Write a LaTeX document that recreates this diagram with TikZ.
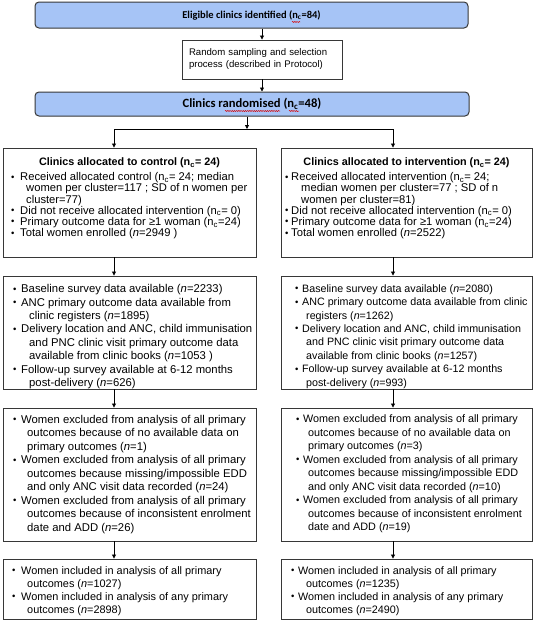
\documentclass[tikz,border=0pt]{standalone}
\usepackage{fontspec}
\setmainfont{Liberation Sans}
\newfontfamily\calib{Carlito}
\usetikzlibrary{arrows.meta,decorations.pathmorphing}
\definecolor{bluefill}{RGB}{166,196,246}
\definecolor{edge}{RGB}{55,55,55}
\newcommand{\nc}{n\textsubscript{c}}
\newcommand{\nn}{\textit{n}}
\newcommand{\B}[1]{\makebox[#1][l]{\raisebox{0.6pt}{\fontsize{9.5}{9}\selectfont •}}}
\newcommand{\C}[1]{\hspace*{#1}}
\begin{document}
\begin{tikzpicture}[x=1pt,y=-1pt,
  bluebox/.style={draw=edge, line width=1pt, fill=bluefill, rounded corners=4pt, inner sep=0pt},
  whitebox/.style={draw=edge, line width=0.9pt, fill=white, inner sep=0pt},
  txt/.style={anchor=north west, inner sep=0pt, align=left},
  head/.style={inner sep=0pt, font=\bfseries\fontsize{10.8}{12}\selectfont},
  arr/.style={draw=black, line width=0.8pt, -{Triangle[length=4pt,width=4pt]}},
  conn/.style={draw=black, line width=0.8pt},
  squig/.style={draw=red!85!black, line width=0.5pt, decorate, decoration={snake,amplitude=0.55pt,segment length=2.2pt}}
]
\useasboundingbox (0,0) rectangle (535,629);
\fill[white] (0,0) rectangle (535,629);

% top part
\node[bluebox, minimum width=433pt, minimum height=26pt, font=\calib\bfseries\fontsize{10.5}{12}\selectfont] (T) at (251.5,15) {Eligible clinics identified (\nc=84)};
\node[whitebox, minimum width=160pt, minimum height=39pt, text width=146pt, inner xsep=7pt, align=left, font=\fontsize{9.6}{12}\selectfont] (R) at (262,59.5) {Random sampling and selection\\process (described in Protocol)};
\node[bluebox, minimum width=434pt, minimum height=24pt, font=\calib\bfseries\fontsize{12.6}{15}\selectfont] (D) at (252,104) {Clinics randomised (\nc=48)};

\draw[squig] (292,22) -- (300,22);
\draw[squig] (225,111) -- (280,111);
\draw[squig] (289,111) -- (299,111);

\coordinate (J) at (247,129);
\coordinate (JL) at (114,129);
\coordinate (JR) at (393,129);

% boxes
\node[whitebox, minimum width=253pt, minimum height=109pt] (L1) at (129.5,202.5) {};
\node[whitebox, minimum width=253pt, minimum height=113pt] (L2) at (129.5,332.5) {};
\node[whitebox, minimum width=253pt, minimum height=133pt] (L3) at (129.5,474.5) {};
\node[whitebox, minimum width=253pt, minimum height=60pt] (L4) at (129.5,589) {};
\node[whitebox, minimum width=251pt, minimum height=109pt] (R1) at (406.5,202.5) {};
\node[whitebox, minimum width=251pt, minimum height=113pt] (R2) at (406.5,332.5) {};
\node[whitebox, minimum width=251pt, minimum height=133pt] (R3) at (406.5,474.5) {};
\node[whitebox, minimum width=251pt, minimum height=60pt] (R4) at (406.5,589) {};

% connectors
\draw[arr] (T.south -| R.north) -- (R.north);
\draw[arr] (R.south) -- (R.south |- D.north);
\draw[arr] (D.south -| J) -- (J);
\draw[conn] (JL) -- (JR);
\draw[arr] (JL) -- (JL |- L1.north);
\draw[arr] (JR) -- (JR |- R1.north);
\draw[arr] (L1.south -| JL) -- (L2.north -| JL);
\draw[arr] (L2.south -| JL) -- (L3.north -| JL);
\draw[arr] (L3.south -| JL) -- (L4.north -| JL);
\draw[arr] (R1.south -| JR) -- (R2.north -| JR);
\draw[arr] (R2.south -| JR) -- (R3.north -| JR);
\draw[arr] (R3.south -| JR) -- (R4.north -| JR);

% left column texts
\node[head] (L1h) at (129.5,163) {Clinics allocated to control (\nc= 24)};
\node[txt, font=\fontsize{11.2}{11.2}\selectfont] (L1t) at (11,172.3) {%
\B{9pt}Received allocated control (\nc= 24; median\\
\C{15pt}women per cluster=117 ; SD of n women per\\
\C{15pt}cluster=77)\\
\B{9pt}Did not receive allocated intervention (\nc= 0)\\
\B{9pt}Primary outcome data for ≥1 woman (\nc=24)\\
\B{9pt}Total women enrolled (\nn=2949 )};

\node[txt, font=\fontsize{11.3}{13.4}\selectfont] (L2t) at (13,284.3) {%
\B{8pt}Baseline survey data available (\nn=2233)\\
\B{8pt}ANC primary outcome data available from\\
\C{16pt}clinic registers (\nn=1895)\\
\B{8pt}Delivery location and ANC, child immunisation\\
\C{16pt}and PNC clinic visit primary outcome data\\
\C{16pt}available from clinic books (\nn=1053 )\\
\B{8pt}Follow-up survey available at 6-12 months\\
\C{16pt}post-delivery (\nn=626)};

\node[txt, font=\fontsize{11.3}{13.5}\selectfont] (L3t) at (13,414.8) {%
\B{8pt}Women excluded from analysis of all primary\\
\C{14pt}outcomes because of no available data on\\
\C{14pt}primary outcomes (\nn=1)\\
\B{8pt}Women excluded from analysis of all primary\\
\C{14pt}outcomes because missing/impossible EDD\\
\C{14pt}and only ANC visit data recorded (\nn=24)\\
\B{8pt}Women excluded from analysis of all primary\\
\C{14pt}outcomes because of inconsistent enrolment\\
\C{14pt}date and ADD (\nn=26)};

\node[txt, font=\fontsize{10.9}{13}\selectfont] (L4t) at (12,566) {%
\B{9pt}Women included in analysis of all primary\\
\C{15pt}outcomes (\nn=1027)\\
\B{9pt}Women included in analysis of any primary\\
\C{15pt}outcomes (\nn=2898)};

% right column texts
\node[head] (R1h) at (406.5,163) {Clinics allocated to intervention (\nc= 24)};
\node[txt, font=\fontsize{11.2}{11.2}\selectfont] (R1t) at (285,172.3) {%
\B{6pt}Received allocated intervention (\nc= 24;\\
\C{16pt}median women per cluster=77 ; SD of n\\
\C{16pt}women per cluster=81)\\
\B{6pt}Did not receive allocated intervention (\nc= 0)\\
\B{6pt}Primary outcome data for ≥1 woman (\nc=24)\\
\B{6pt}Total women enrolled (\nn=2522)};

\node[txt, font=\fontsize{10.7}{13.4}\selectfont] (R2t) at (295,284.3) {%
\B{7pt}Baseline survey data available (\nn=2080)\\
\B{7pt}ANC primary outcome data available from clinic\\
\C{11pt}registers (\nn=1262)\\
\B{7pt}Delivery location and ANC, child immunisation\\
\C{11pt}and PNC clinic visit primary outcome data\\
\C{11pt}available from clinic books (\nn=1257)\\
\B{7pt}Follow-up survey available at 6-12 months\\
\C{11pt}post-delivery (\nn=993)};

\node[txt, font=\fontsize{10.8}{13.5}\selectfont] (R3t) at (296,414.8) {%
\B{7pt}Women excluded from analysis of all primary\\
\C{12pt}outcomes because of no available data on\\
\C{12pt}primary outcomes (\nn=3)\\
\B{7pt}Women excluded from analysis of all primary\\
\C{12pt}outcomes because missing/impossible EDD\\
\C{12pt}and only ANC visit data recorded (\nn=10)\\
\B{7pt}Women excluded from analysis of all primary\\
\C{12pt}outcomes because of inconsistent enrolment\\
\C{12pt}date and ADD (\nn=19)};

\node[txt, font=\fontsize{10.8}{13}\selectfont] (R4t) at (291,566) {%
\B{7pt}Women included in analysis of all primary\\
\C{15pt}outcomes (\nn=1235)\\
\B{7pt}Women included in analysis of any primary\\
\C{15pt}outcomes (\nn=2490)};
\end{tikzpicture}
\end{document}
